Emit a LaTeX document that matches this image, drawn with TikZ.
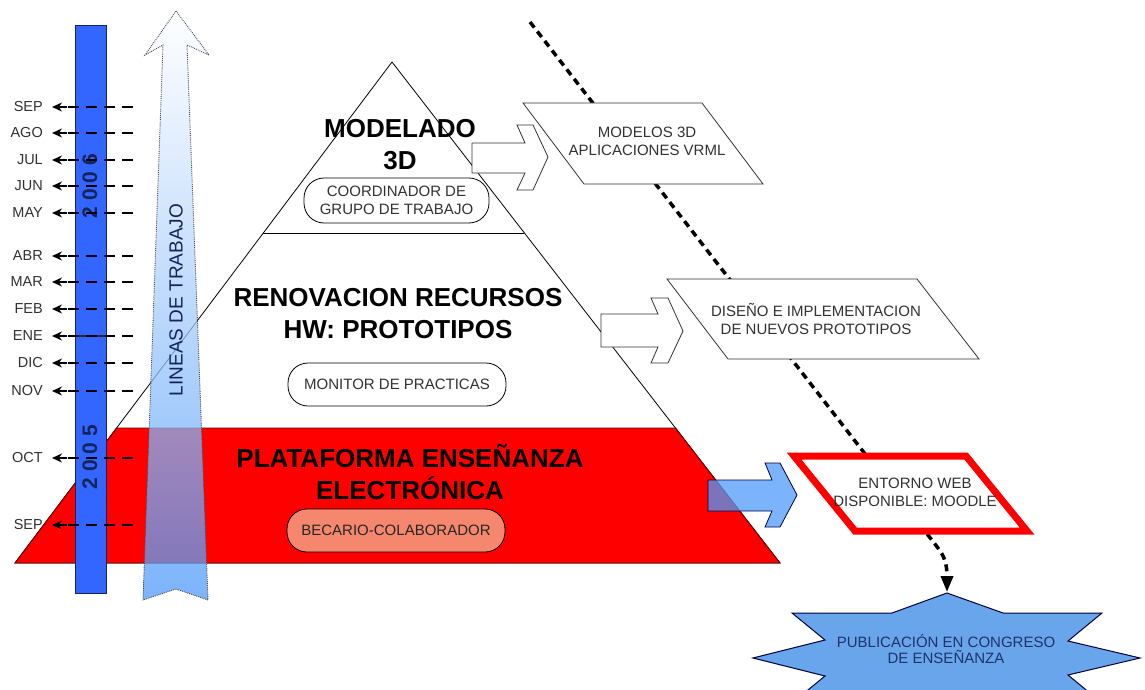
\documentclass[tikz,border=0pt]{standalone}
\usepackage{fontspec}
\setmainfont{Liberation Sans}
\usetikzlibrary{arrows.meta,calc}
\definecolor{barblue}{RGB}{51,102,255}
\definecolor{lblue}{RGB}{80,155,250}
\definecolor{salmonfill}{RGB}{245,135,110}
\definecolor{starblue}{RGB}{105,165,235}
\definecolor{txtgray}{RGB}{50,50,50}
\definecolor{navy}{RGB}{20,35,90}
\definecolor{startext}{RGB}{30,50,110}
\tikzset{
  titletext/.style={font=\fontsize{26}{32}\selectfont\bfseries, align=center, text=black},
  smalltext/.style={font=\fontsize{15}{18}\selectfont, align=center, text=txtgray},
  rolebox/.style={smalltext, draw=black, line width=0.8pt, rounded corners=20pt, inner sep=0pt},
  monthlabel/.style={font=\fontsize{14.5}{16}\selectfont, text=txtgray, anchor=east, inner sep=0pt},
  monthline/.style={dash pattern=on 11pt off 7pt, line width=1.3pt, shorten >=20pt},
  monthtip/.style={solid, line width=1.3pt, shorten >=9pt, -{Stealth[length=10pt,width=9pt]}},
  blockarrow/.style={draw=black!80, line width=0.8pt, fill=white, line join=miter},
  paral/.style={draw=black!80, line width=0.8pt, fill=white},
  bigdots/.style={line width=3.5pt, dash pattern=on 7pt off 5pt, -{Triangle[length=16pt,width=12pt]}},
  yeartext/.style={rotate=90, font=\fontsize{21}{21}\selectfont\bfseries, text=navy}
}
\begin{document}
\begin{tikzpicture}[x=1pt,y=-1pt]
\useasboundingbox (0,0) rectangle (1145,690);
\fill[white] (0,0) rectangle (1145,690);
% pyramid
\coordinate (apex) at (392,62);
\coordinate (bl) at (15,563);
\coordinate (br) at (780,563);
\filldraw[fill=white, draw=black, line width=0.8pt] (apex) -- (bl) -- (br) -- cycle;
\draw[line width=0.8pt] (263,233) -- (524.4,233);
\filldraw[fill=red, draw=black!60!red, line width=0.9pt] (116.6,428) -- (bl) -- (br) -- (675.4,428) -- cycle;
% dotted flow line
\coordinate (dstart) at (530,22);
\coordinate (pubtop) at (947,592);
\draw[bigdots] (dstart) -- (938,548) .. controls (944,556) and (947,563) .. (pubtop);
% parallelograms
\filldraw[paral] (523,103) -- (702,103) -- (763,184) -- (584,184) -- cycle;
\node[smalltext] (modelos) at (647,141) {MODELOS 3D\\APLICACIONES VRML};
\filldraw[paral] (667,279) -- (917,279) -- (979,359) -- (728,359) -- cycle;
\node[smalltext] (diseno) at (816,319) {DISEÑO E IMPLEMENTACION\\DE NUEVOS PROTOTIPOS};
\filldraw[fill=white, draw=red, line width=7pt, line join=miter] (794,456) -- (966,456) -- (1027,531) -- (855,531) -- cycle;
\node[smalltext] (entorno) at (915,492) {ENTORNO WEB\\DISPONIBLE: MOODLE};
% block arrows
\filldraw[blockarrow] (472,143) -- (525,143) -- (517,125) -- (533,125) -- (548,157) -- (533,190) -- (517,190) -- (525,173) -- (472,173) -- cycle;
\filldraw[blockarrow] (601,314) -- (658,314) -- (651,298) -- (668,298) -- (683,331) -- (668,363) -- (651,363) -- (658,347) -- (601,347) -- cycle;
\path[draw=black!70!blue, line width=0.8pt, fill=lblue, fill opacity=0.75] (708,480) -- (772,480) -- (765,463) -- (780,463) -- (797,495) -- (780,527) -- (765,527) -- (772,511) -- (708,511) -- cycle;
% titles and roles
\node[titletext] (modelado) at (400,145) {MODELADO\\3D};
\node[rolebox, minimum width=185pt, minimum height=45pt] (coord) at (396.5,200.5) {COORDINADOR DE\\GRUPO DE TRABAJO};
\node[titletext] (renov) at (398,313.5) {RENOVACION RECURSOS\\HW: PROTOTIPOS};
\node[rolebox, minimum width=218pt, minimum height=43pt] (monitor) at (397,384.5) {MONITOR DE PRACTICAS};
\node[titletext] (plat) at (410,472) {PLATAFORMA ENSEÑANZA\\ELECTRÓNICA};
\node[rolebox, fill=salmonfill, text=black!85, minimum width=218pt, minimum height=43pt] (becario) at (396,530.5) {BECARIO-COLABORADOR};
% year bar
\filldraw[fill=barblue, draw=navy, line width=0.8pt] (75,25) rectangle (106,593);
\draw[line width=2.5pt, black!85] (75,336) -- (106,336);
\node[yeartext] (y2006) at (90,186) {2 0 0 6};
\node[yeartext] (y2005) at (90,457) {2 0 0 5};
% lineas de trabajo arrow
\path[top color=white, bottom color=lblue, fill opacity=0.75, draw=black!70, densely dotted, line width=0.9pt]
  (176,11) -- (209,55) -- (187,45) -- (208,600) -- (176,589) -- (143,600) -- (163,45) -- (145,55) -- cycle;
\node[rotate=90, font=\fontsize{19}{19}\selectfont, text=navy] (lineas) at (176,300) {LINEAS DE TRABAJO};
% months
\foreach \yy/\mm/\ii in {107/SEP/1,133/AGO/2,160/JUL/3,186/JUN/4,213/MAY/5,256/ABR/6,282/MAR/7,309/FEB/8,336/ENE/9,363/DIC/10,391/NOV/11,458/OCT/12,525/SEP/13}{
  \node[monthlabel] (m\ii) at (43,\yy) {\mm};
  \coordinate (c\ii) at (133,\yy);
  \draw[monthline] (c\ii) -- (m\ii.east);
  \draw[monthtip] ($(m\ii.east)+(24,0)$) -- (m\ii.east);
}
% star
\filldraw[fill=starblue, draw=black!75!blue, line width=1pt]
  (1140,658) -- (1068,641) -- (1102,613) -- (1003,613) -- (947,593) -- (892,613) -- (792,613) -- (825,640)
  -- (753,658) -- (825,676) -- (792,703) -- (892,703) -- (947,723) -- (1003,703) -- (1102,703) -- (1068,675) -- cycle;
\node[smalltext, text=startext, font=\fontsize{15}{16}\selectfont] (pub) at (946,649) {PUBLICACIÓN EN CONGRESO\\DE ENSEÑANZA};
\end{tikzpicture}
\end{document}
